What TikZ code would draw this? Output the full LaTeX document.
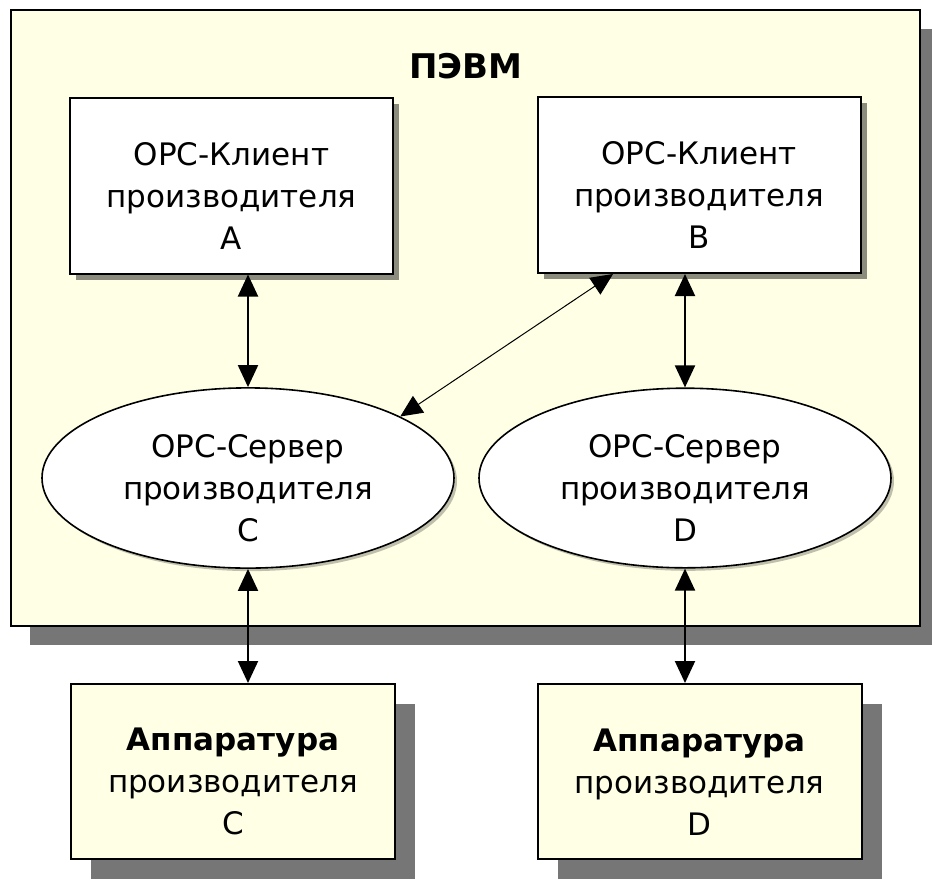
\documentclass[tikz,border=0pt]{standalone}
\usepackage{fontspec}
\setmainfont{DejaVu Sans}
\usetikzlibrary{shapes.geometric,shadows,arrows.meta}
\definecolor{pcyellow}{RGB}{255,255,230}
\definecolor{shadowgray}{RGB}{118,118,118}
\newcommand{\toplift}{\rule{0pt}{21.5pt}}
\tikzset{
  pcbox/.style={draw, line width=1pt, fill=pcyellow,
    minimum width=454.5pt, minimum height=308pt,
    drop shadow={shadow xshift=9.5pt, shadow yshift=-9.5pt, fill=shadowgray, opacity=1}},
  client/.style={draw, line width=1pt, fill=white, align=center,
    minimum width=161.5pt, minimum height=88pt,
    drop shadow={shadow xshift=3pt, shadow yshift=-3pt, fill=black, opacity=0.45}},
  server/.style={ellipse, draw, line width=0.8pt, fill=white, align=center, inner sep=0pt,
    minimum width=206pt, minimum height=88.5pt,
    drop shadow={shadow xshift=1.5pt, shadow yshift=-1.5pt, fill=black, opacity=0.25}},
  hardware/.style={draw, line width=1pt, fill=pcyellow, align=center,
    minimum width=162pt, minimum height=87.5pt,
    drop shadow={shadow xshift=10pt, shadow yshift=-10pt, fill=shadowgray, opacity=1}},
  link/.style={line width=1pt,
    {Triangle[width=10pt,length=11pt]}-{Triangle[width=10pt,length=11pt]}},
  thinlink/.style={line width=0.5pt,
    {Triangle[width=10pt,length=11pt]}-{Triangle[width=10pt,length=11pt]}}
}

\begin{document}
\begin{tikzpicture}[x=0.5pt, y=-0.5pt, font=\fontsize{15.5}{21}\selectfont]
  \path[use as bounding box, fill=white] (0,0) rectangle (932,879);

  % PC frame
  \node[pcbox] (pc) at (465.5,318) {};
  \node[font=\fontsize{17}{20}\selectfont\bfseries] (title) at (466,66) {ПЭВМ};

  % clients
  \node[client] (clientA) at (231.5,185.5) {\toplift OPC-Клиент\\производителя\\A};
  \node[client] (clientB) at (699,185) {\toplift OPC-Клиент\\производителя\\B};

  % servers
  \node[server] (serverC) at (248,478) {\toplift OPC-Сервер\\производителя\\C};
  \node[server] (serverD) at (685,478) {\toplift OPC-Сервер\\производителя\\D};

  % hardware
  \node[hardware] (hwC) at (233,771.5) {\toplift\textbf{Аппаратура}\\производителя\\C};
  \node[hardware] (hwD) at (699.5,771.5) {\toplift\textbf{Аппаратура}\\производителя\\D};

  \draw[link] (serverC.north) -- (serverC.north |- clientA.south);
  \draw[link] (serverD.north) -- (serverD.north |- clientB.south);
  \draw[thinlink] (clientB.226) -- (serverC.22);
  \draw[link] (serverC.south) -- (serverC.south |- hwC.north);
  \draw[link] (serverD.south) -- (serverD.south |- hwD.north);
\end{tikzpicture}
\end{document}
